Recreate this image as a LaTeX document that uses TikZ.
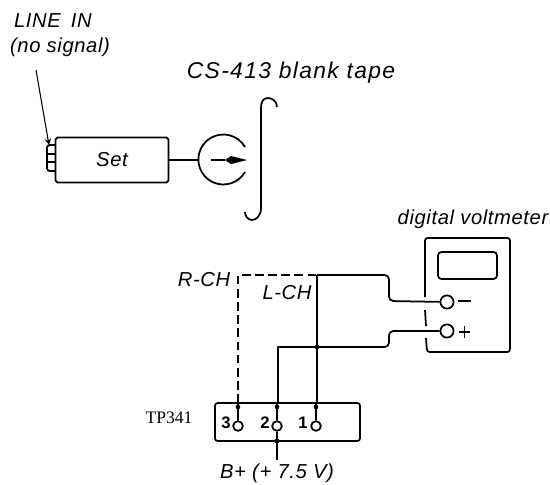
\documentclass[tikz,border=0pt]{standalone}
\usepackage{fontspec}
\setmainfont{Liberation Sans}
\newfontfamily\tpfont{Liberation Serif}
\newfontfamily\labelfont[LetterSpace=3]{Liberation Sans}
\newfontfamily\tapefont[LetterSpace=6]{Liberation Sans}
\usetikzlibrary{arrows}
\usetikzlibrary{calc}

\tikzset{
    wire/.style={line width=1pt, line join=round},
    label/.style={inner sep=0pt, font=\fontsize{11.5}{13}\labelfont\itshape},
    digit/.style={inner sep=0pt, font=\fontsize{9.5}{10}\selectfont\bfseries},
    terminal/.style={circle, draw, fill=white, line width=1pt, inner sep=0pt, minimum size=7.5pt},
    pin/.style={circle, draw, fill=white, line width=1pt, inner sep=0pt, minimum size=5.5pt},
}

\begin{document}
\begin{tikzpicture}[x=0.02cm, y=-0.02cm]
        \useasboundingbox (0,0) rectangle (550,484);

        \node[label] (linein) at (53,21) {LINE\hspace{0.5em}IN};
        \node[label] (nosignal) at (60,47) {(no signal)};
        \node[label, font=\fontsize{13}{15}\tapefont\itshape] (tape) at (291,73) {CS-413 blank tape};
        \node[label] (voltlabel) at (473,219) {digital voltmeter};
        \node[label] (rch) at (204,280) {R-CH};
        \node[label] (lch) at (287,293) {L-CH};
        \node[inner sep=0pt, font=\fontsize{10}{12}\tpfont] (tp) at (169,418) {TP341};
        \node[label] (bplus) at (277,473) {B+ (+ 7.5 V)};

        % set and jack
        \node[draw, wire, minimum width=2.26cm, minimum height=0.9cm, inner sep=0pt, label, rounded corners=1pt] (set) at (112,160) {Set};
        \coordinate (jtop) at (55,145);
        \coordinate (jbot) at (55,171);
        \draw[wire, rounded corners=1.5pt] (jtop) -- (47,145) -- (47,171) -- (jbot);
        \draw[wire] (47,154) -- (55,154);
        \draw[wire] (47,162) -- (55,162);
        \coordinate (a1) at (36,70);
        \coordinate (a2) at (49,145);
        \draw[line width=0.6pt, -stealth] (a1) -- (a2);

        % head
        \coordinate (h1) at (198,160);
        \draw[wire] (set) -- (h1);
        \draw[wire] (245,147) arc (30:330:0.5cm);
        \coordinate (g1) at (211,160);
        \coordinate (g2) at (225,160);
        \coordinate (g3) at (247,160);
        \draw[wire] (g1) -- (g2);
        \fill (g3) -- (231,156) -- (225,160) -- (231,164) -- cycle;

        % tape
        \draw[wire] (277,107) .. controls (277,101) and (272,98) .. (268,98)
            .. controls (263,98) and (261,102) .. (261,108) -- (261,208)
            .. controls (261,216) and (256,220) .. (252,220)
            .. controls (248,220) and (245,216) .. (245,212);

        % voltmeter
        \draw[wire, rounded corners=1.5pt] (425,297) -- (425,238) -- (510,238) -- (510,352) -- (427,352) -- (426,338);
        \draw[wire] (425,310) -- (426,326);
        \draw[wire, rounded corners=2pt] (438,252) rectangle (497,279);
        \node[terminal] (minus) at (447,302) {};
        \node[terminal] (plus) at (447,331) {};
        \draw[wire] (458,301) -- (471,301);
        \draw[wire] (459,332) -- (470,332);
        \draw[wire] (464.5,326) -- (464.5,338);

        % TP341
        \coordinate (tl) at (215,403);
        \coordinate (br) at (360,441);
        \draw[wire, rounded corners=1.5pt] (tl) rectangle (br);
        \node[pin] (p3) at (238,426) {};
        \node[pin] (p2) at (277,426) {};
        \node[pin] (p1) at (316,426) {};
        \node[digit] (d3) at (226,423) {3};
        \node[digit] (d2) at (265,423) {2};
        \node[digit] (d1) at (303,423) {1};

        % wiring
        \coordinate (r1) at (238,275);
        \coordinate (l1) at (317,275);
        \coordinate (pl) at (278,347);
        \coordinate (jn) at (317,347);
        \coordinate (b1) at (277,460);
        \coordinate (b0) at (277,441);
        \draw[wire, dashed, dash pattern=on 5pt off 2.5pt] (238,403) -- (r1) -- (l1);
        \draw[wire] (p3) -- (238,403);
        \draw[wire] (p2) -- (277,403) -- (278,403) -- (pl) -- (jn);
        \draw[wire] (p1) -- (316,403) -- (317,403) -- (jn) -- (l1);
        \draw[wire, rounded corners=2.5pt] (l1) -- (389,275) -- (389,301) -- (minus);
        \draw[wire, rounded corners=2.5pt] (jn) -- (389,347) -- (389,331) -- (plus);
        \draw[wire] (p2) -- (b0) -- (b1);
        \fill (jn) circle (1.3pt);
        \fill (b0) circle (1.5pt);
        \fill (238,407) circle (1.3pt);
        \fill (277,407) circle (1.3pt);
        \fill (316,407) circle (1.3pt);
    \end{tikzpicture}
\end{document}
